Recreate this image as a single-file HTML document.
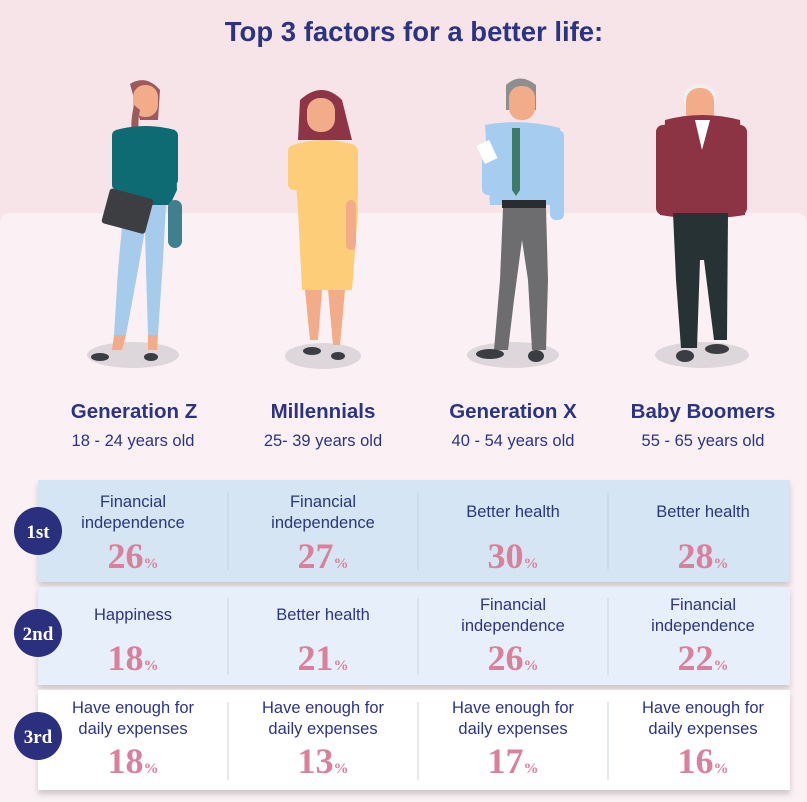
<!DOCTYPE html>
<html><head><meta charset="utf-8"><style>
body{margin:0;width:807px;height:802px;overflow:hidden;background:#f6e4e9;font-family:"Liberation Sans",sans-serif}
</style></head><body>
<svg width="807" height="802" xmlns="http://www.w3.org/2000/svg" style="position:absolute;left:0;top:0">
<defs>
<filter id="sh" x="-5%" y="-20%" width="110%" height="150%"><feDropShadow dx="0" dy="4" stdDeviation="3" flood-color="#000" flood-opacity="0.18"/></filter>
</defs>
<rect x="0" y="0" width="807" height="802" fill="#f6e4e9"/>
<rect x="0" y="213" width="807" height="600" rx="10" fill="#fbf1f4"/>
<text x="414" y="41" text-anchor="middle" font-size="27.5" font-weight="bold" fill="#2c3482">Top 3 factors for a better life:</text>

<g fill="#ddd6da">
<ellipse cx="133" cy="355" rx="46" ry="13"/>
<ellipse cx="323" cy="356" rx="38" ry="13"/>
<ellipse cx="513" cy="355" rx="46" ry="13"/>
<ellipse cx="702" cy="355" rx="47" ry="13"/>
</g>

<!-- Gen Z -->
<g>
<path d="M130 84 Q146 74 160 90 L158 120 L140 120 Z" fill="#9c5a5c"/>
<rect x="133" y="85" width="25" height="32" rx="12" fill="#f2ac8a"/>
<path d="M134 105 Q128 130 135 155 L142 150 Q136 128 140 110 Z" fill="#9c5a5c"/>
<path d="M116 130 Q145 122 175 130 L177 190 L170 205 L122 205 L118 190 Z" fill="#0e6b73"/>
<rect x="112" y="130" width="12" height="60" rx="5" fill="#0e6b73"/>
<rect x="166" y="130" width="12" height="55" rx="5" fill="#0e6b73"/>
<path d="M124 205 L166 205 L163 260 L158 335 L148 335 L146 270 L145 230 L138 270 L126 335 L114 335 L118 270 Z" fill="#a6cbeb"/>
<path d="M114 335 L126 335 L122 350 L112 350 Z M148 335 L158 335 L157 350 L148 350 Z" fill="#f2ac8a"/>
<rect x="105" y="193" width="45" height="36" rx="3" transform="rotate(15 127 211)" fill="#3c3e42"/>
<rect x="168" y="200" width="14" height="48" rx="7" fill="#3f7f8e"/>
<ellipse cx="100" cy="357" rx="9" ry="4" fill="#3a3d42"/>
<ellipse cx="151" cy="357" rx="7" ry="4" fill="#3a3d42"/>
</g>

<!-- Millennials -->
<g>
<path d="M300 100 Q322 80 342 100 L352 140 L298 140 Z" fill="#8d3446"/>
<rect x="307" y="98" width="28" height="34" rx="13" fill="#f2ac8a"/>
<path d="M293 145 Q322 135 355 145 L358 210 L352 290 L302 290 L298 210 Z" fill="#fdcd7a"/>
<rect x="288" y="145" width="14" height="45" rx="6" fill="#fdcd7a"/>
<rect x="344" y="145" width="14" height="55" rx="6" fill="#fdcd7a"/>
<rect x="346" y="200" width="10" height="50" rx="5" fill="#f2ac8a"/>
<path d="M305 290 L322 290 L318 340 L310 340 Z M328 290 L345 290 L340 345 L333 345 Z" fill="#f2ac8a"/>
<ellipse cx="312" cy="351" rx="9" ry="4" fill="#3a3d42"/>
<ellipse cx="338" cy="356" rx="7" ry="4" fill="#3a3d42"/>
</g>

<!-- Gen X -->
<g>
<path d="M506 85 Q520 72 536 85 L536 110 L506 110 Z" fill="#8e8e8e"/>
<rect x="509" y="86" width="26" height="34" rx="12" fill="#f2ac8a"/>
<path d="M485 125 Q522 118 560 128 L562 205 L490 205 Z" fill="#a6cdef"/>
<rect x="550" y="130" width="14" height="90" rx="6" fill="#a6cdef"/>
<rect x="482" y="155" width="16" height="40" rx="6" fill="#a6cdef"/>
<path d="M512 128 L520 128 L520 190 L516 196 L512 190 Z" fill="#3f7a68"/>
<rect x="480" y="142" width="14" height="20" transform="rotate(-25 487 152)" fill="#fff"/>
<rect x="502" y="200" width="44" height="8" fill="#2a2d30"/>
<path d="M503 208 L546 208 L548 280 L546 350 L532 350 L528 280 L522 240 L514 300 L508 350 L494 350 L500 280 Z" fill="#6d6d70"/>
<ellipse cx="490" cy="354" rx="14" ry="5" fill="#3a3d42"/>
<ellipse cx="536" cy="356" rx="8" ry="6" fill="#3a3d42"/>
</g>

<!-- Baby Boomers -->
<g>
<path d="M684 92 Q700 76 716 92 L716 105 L684 105 Z" fill="#f0f0f0"/>
<rect x="686" y="88" width="28" height="38" rx="13" fill="#f2ac8a"/>
<path d="M665 120 Q702 110 740 120 L745 215 Q702 222 660 215 Z" fill="#8c3344"/>
<path d="M695 120 L710 120 L702 150 Z" fill="#fff"/>
<rect x="656" y="125" width="16" height="90" rx="7" fill="#8c3344"/>
<rect x="731" y="125" width="16" height="90" rx="7" fill="#8c3344"/>
<path d="M673 213 L728 213 L727 340 L714 340 L704 260 L700 260 L697 348 L681 348 L676 280 Z" fill="#263233"/>
<ellipse cx="685" cy="356" rx="9" ry="6" fill="#3a3d42"/>
<ellipse cx="717" cy="349" rx="12" ry="5" fill="#3a3d42"/>
</g>

<g text-anchor="middle" fill="#2c3482">
<text x="134" y="418" font-size="20.5" font-weight="bold">Generation Z</text>
<text x="323" y="418" font-size="20.5" font-weight="bold">Millennials</text>
<text x="513" y="418" font-size="20.5" font-weight="bold">Generation X</text>
<text x="703" y="418" font-size="20.5" font-weight="bold">Baby Boomers</text>
<text x="133" y="446" font-size="16.5">18 - 24 years old</text>
<text x="323" y="446" font-size="16.5">25- 39 years old</text>
<text x="513" y="446" font-size="16.5">40 - 54 years old</text>
<text x="703" y="446" font-size="16.5">55 - 65 years old</text>
</g>

<rect x="38" y="480" width="752" height="102" fill="#d5e5f3" filter="url(#sh)"/>
<rect x="38" y="587" width="752" height="98" fill="#e7f0fa" filter="url(#sh)"/>
<rect x="38" y="690" width="752" height="100" fill="#ffffff" filter="url(#sh)"/>
<g stroke="#c9d3de" stroke-width="1">
<line x1="228" y1="492" x2="228" y2="570"/><line x1="418" y1="492" x2="418" y2="570"/><line x1="608" y1="492" x2="608" y2="570"/>
<line x1="228" y1="598" x2="228" y2="675"/><line x1="418" y1="598" x2="418" y2="675"/><line x1="608" y1="598" x2="608" y2="675"/>
<line x1="228" y1="702" x2="228" y2="780"/><line x1="418" y1="702" x2="418" y2="780"/><line x1="608" y1="702" x2="608" y2="780"/>
</g>
<g fill="#2a2f7e">
<circle cx="38" cy="531" r="24"/><circle cx="38" cy="633" r="24"/><circle cx="38" cy="736" r="24"/>
</g>
<g fill="#fff" font-family="Liberation Serif,serif" font-weight="bold" font-size="19" text-anchor="middle">
<text x="38" y="538">1st</text><text x="38" y="640">2nd</text><text x="38" y="743">3rd</text>
</g>

<g text-anchor="middle" fill="#2c3482" font-size="16.5">
<text x="133" y="507">Financial</text><text x="133" y="528">independence</text>
<text x="323" y="507">Financial</text><text x="323" y="528">independence</text>
<text x="513" y="517">Better health</text>
<text x="703" y="517">Better health</text>
<text x="133" y="620">Happiness</text>
<text x="323" y="620">Better health</text>
<text x="513" y="610">Financial</text><text x="513" y="631">independence</text>
<text x="703" y="610">Financial</text><text x="703" y="631">independence</text>
<text x="133" y="713">Have enough for</text><text x="133" y="734">daily expenses</text>
<text x="323" y="713">Have enough for</text><text x="323" y="734">daily expenses</text>
<text x="513" y="713">Have enough for</text><text x="513" y="734">daily expenses</text>
<text x="703" y="713">Have enough for</text><text x="703" y="734">daily expenses</text>
</g>
<g text-anchor="middle" fill="#d9819a" font-family="Liberation Serif,serif" font-weight="bold" font-size="36">
<text x="133" y="568">26<tspan font-size="15">%</tspan></text>
<text x="323" y="568">27<tspan font-size="15">%</tspan></text>
<text x="513" y="568">30<tspan font-size="15">%</tspan></text>
<text x="703" y="568">28<tspan font-size="15">%</tspan></text>
<text x="133" y="670">18<tspan font-size="15">%</tspan></text>
<text x="323" y="670">21<tspan font-size="15">%</tspan></text>
<text x="513" y="670">26<tspan font-size="15">%</tspan></text>
<text x="703" y="670">22<tspan font-size="15">%</tspan></text>
<text x="133" y="773">18<tspan font-size="15">%</tspan></text>
<text x="323" y="773">13<tspan font-size="15">%</tspan></text>
<text x="513" y="773">17<tspan font-size="15">%</tspan></text>
<text x="703" y="773">16<tspan font-size="15">%</tspan></text>
</g>
</svg>
</body></html>
